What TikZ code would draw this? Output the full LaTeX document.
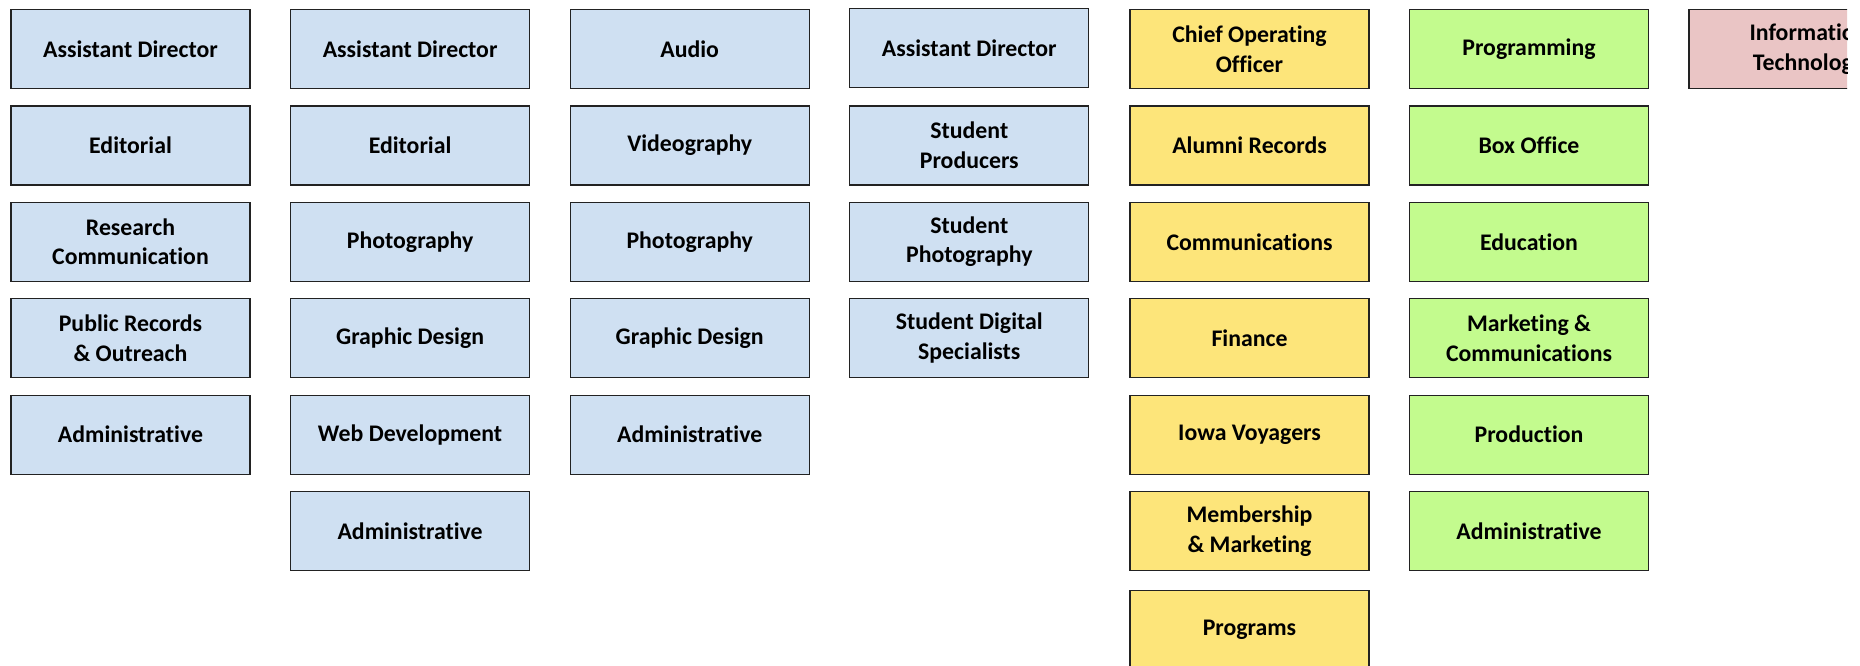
\documentclass[tikz,border=0pt]{standalone}
\usepackage{fontspec}
\setmainfont[RawFeature={-liga}]{Carlito}
\definecolor{cblue}{HTML}{CFE0F2}
\definecolor{cyellow}{HTML}{FDE57A}
\definecolor{cgreen}{HTML}{C3FB8E}
\definecolor{cpink}{HTML}{EAC5C5}
\definecolor{cedge}{HTML}{222222}
\begin{document}
\begin{tikzpicture}[x=1pt,y=-1pt,
  box/.style={draw=cedge, line width=1.2pt, minimum width=239pt, minimum height=79pt,
    inner sep=0pt, align=center, font=\fontsize{23.8}{29.5}\selectfont\bfseries},
  bluebox/.style={box, fill=cblue},
  yellowbox/.style={box, fill=cyellow},
  greenbox/.style={box, fill=cgreen},
  pinkbox/.style={box, fill=cpink}]
\clip (0,0) rectangle (1860,665);
\fill[white] (0,0) rectangle (1860,665);
% column 1
\node[bluebox] (a1) at (130.5,49) {Assistant Director};
\node[bluebox] (a2) at (130.5,145.4) {Editorial};
\node[bluebox] (a3) at (130.5,241.8) {Research\\Communication};
\node[bluebox] (a4) at (130.5,338.2) {Public Records\\\& Outreach};
\node[bluebox] (a5) at (130.5,434.6) {Administrative};
% column 2
\node[bluebox] (b1) at (410.1,49) {Assistant Director};
\node[bluebox] (b2) at (410.1,145.4) {Editorial};
\node[bluebox] (b3) at (410.1,241.8) {Photography};
\node[bluebox] (b4) at (410.1,338.2) {Graphic Design};
\node[bluebox] (b5) at (410.1,434.6) {Web Development};
\node[bluebox] (b6) at (410.1,531) {Administrative};
% column 3
\node[bluebox] (c1) at (689.7,49) {Audio};
\node[bluebox] (c2) at (689.7,145.4) {Videography};
\node[bluebox] (c3) at (689.7,241.8) {Photography};
\node[bluebox] (c4) at (689.7,338.2) {Graphic Design};
\node[bluebox] (c5) at (689.7,434.6) {Administrative};
% column 4
\node[bluebox] (d1) at (969.3,48) {Assistant Director};
\node[bluebox] (d2) at (969.3,145.4) {Student\\Producers};
\node[bluebox] (d3) at (969.3,241.8) {Student\\Photography};
\node[bluebox] (d4) at (969.3,338.2) {Student Digital\\Specialists};
% column 5
\node[yellowbox] (e1) at (1249.5,49) {Chief Operating\\Officer};
\node[yellowbox] (e2) at (1249.5,145.4) {Alumni Records};
\node[yellowbox] (e3) at (1249.5,241.8) {Communications};
\node[yellowbox] (e4) at (1249.5,338.2) {Finance};
\node[yellowbox] (e5) at (1249.5,434.6) {Iowa Voyagers};
\node[yellowbox] (e6) at (1249.5,531) {Membership\\\& Marketing};
\node[yellowbox] (e7) at (1249.5,630) {Programs};
% column 6
\node[greenbox] (f1) at (1529,49) {Programming};
\node[greenbox] (f2) at (1529,145.4) {Box Office};
\node[greenbox] (f3) at (1529,241.8) {Education};
\node[greenbox] (f4) at (1529,338.2) {Marketing \&\\Communications};
\node[greenbox] (f5) at (1529,434.6) {Production};
\node[greenbox] (f6) at (1529,531) {Administrative};
% column 7 (cut off at the right)
\begin{scope}
\clip (0,0) rectangle (1847,665);
\node[pinkbox] (g1) at (1808.5,49) {Information\\Technology};
\end{scope}
\end{tikzpicture}
\end{document}
